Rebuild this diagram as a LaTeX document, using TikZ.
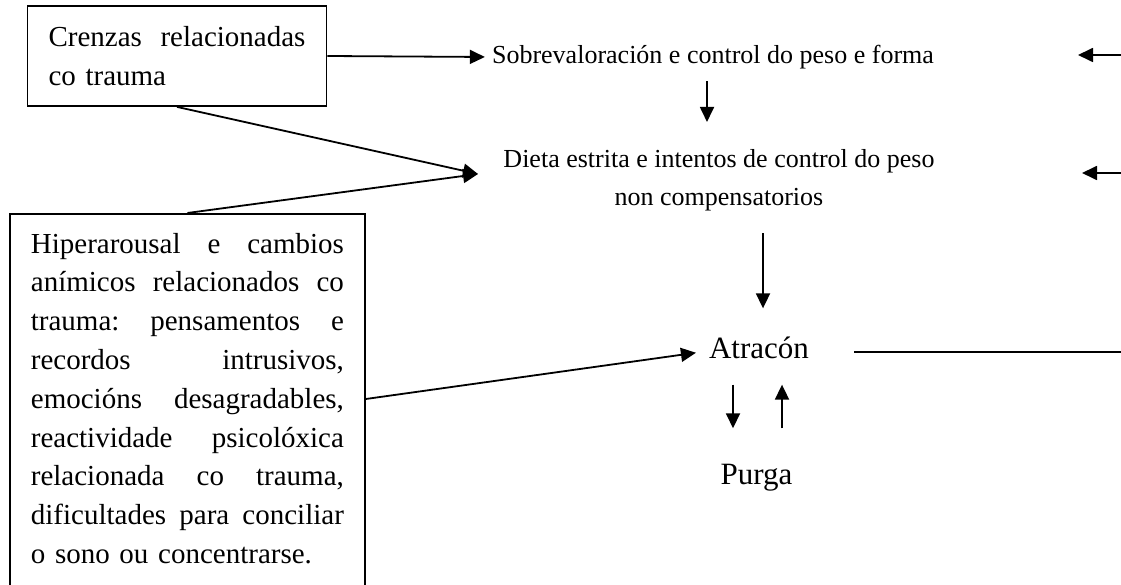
\documentclass[tikz,border=0pt]{standalone}
\usepackage{fontspec}
\setmainfont{Liberation Serif}
\usepackage{tikz}
\usetikzlibrary{arrows.meta}
\tikzset{>={Triangle[width=14pt,length=15pt]}}

\newcommand{\fullline}[2][313pt]{\leavevmode\hbox to #1{\frenchspacing\spaceskip=\fontdimen2\font plus 1fil\relax #2}\\}

\begin{document}
\begin{tikzpicture}[x=1pt, y=-1pt, line width=1.8pt, box/.style={draw=black, line width=1.8pt, inner xsep=21pt, align=left, font=\fontsize{29}{38.8}\selectfont}, textnode/.style={draw=none, fill=none, align=center, font=\fontsize{26}{38}\selectfont}, bigtext/.style={draw=none, fill=none, font=\fontsize{31}{38}\selectfont}]
    \useasboundingbox (0,0) rectangle (1121,585);

    %Nodes
    \node[box, text width=257pt, minimum height=100pt](crenzas) at (177,56){\fullline[257pt]{Crenzas relacionadas}co trauma};
    \node[box, text width=313pt, inner ysep=19pt, anchor=north west](hiper) at (9,213){\fullline{Hiperarousal e cambios}\fullline{anímicos relacionados co}\fullline{trauma: pensamentos e}\fullline{recordos intrusivos,}\fullline{emocións desagradables,}\fullline{reactividade psicolóxica}\fullline{relacionada co trauma,}\fullline{dificultades para conciliar}o sono ou concentrarse.\rule[-40pt]{0pt}{40pt}};
    \node[textnode](sobre) at (713,57){Sobrevaloración e control do peso e forma};
    \node[textnode](dieta) at (719,180){Dieta estrita e intentos de control do peso\\non compensatorios};
    \node[bigtext](atracon) at (759,347.5){Atracón};
    \node[bigtext](purga) at (756.5,478){Purga};
    \coordinate (meet) at (478,174);
    \coordinate (edgeS) at (1121,55);
    \coordinate (tipS) at (1078,55);
    \coordinate (edgeD) at (1121,173);
    \coordinate (tipD) at (1082,173);
    \coordinate (edgeA) at (1121,352);

    %Lines
    \draw[->, shorten >=3pt] (crenzas.east) -- (sobre.west);
    \draw[->] (crenzas.south) -- (meet);
    \draw[->] (hiper.north) -- (meet);
    \draw[->, shorten >=9pt] ([yshift=-186pt]hiper.north east) -- ([yshift=-4pt]atracon.west);
    \draw[->, shorten <=8pt, shorten >=23pt] ([xshift=-6pt]sobre.south) -- ([xshift=-12pt]dieta.north);
    \draw[->, shorten <=18pt, shorten >=24pt] ([xshift=44pt]dieta.south) -- ([xshift=4pt]atracon.north);
    \draw[->, shorten <=22pt, shorten >=32pt] ([xshift=-26pt]atracon.south) -- ([xshift=-23.5pt]purga.north);
    \draw[->, shorten <=32pt, shorten >=22pt] ([xshift=25.5pt]purga.north) -- ([xshift=23pt]atracon.south);
    \draw ([xshift=41pt, yshift=-4.5pt]atracon.east) -- (edgeA);
    \draw[->] (edgeS) -- (tipS);
    \draw[->] (edgeD) -- (tipD);

\end{tikzpicture}
\end{document}
